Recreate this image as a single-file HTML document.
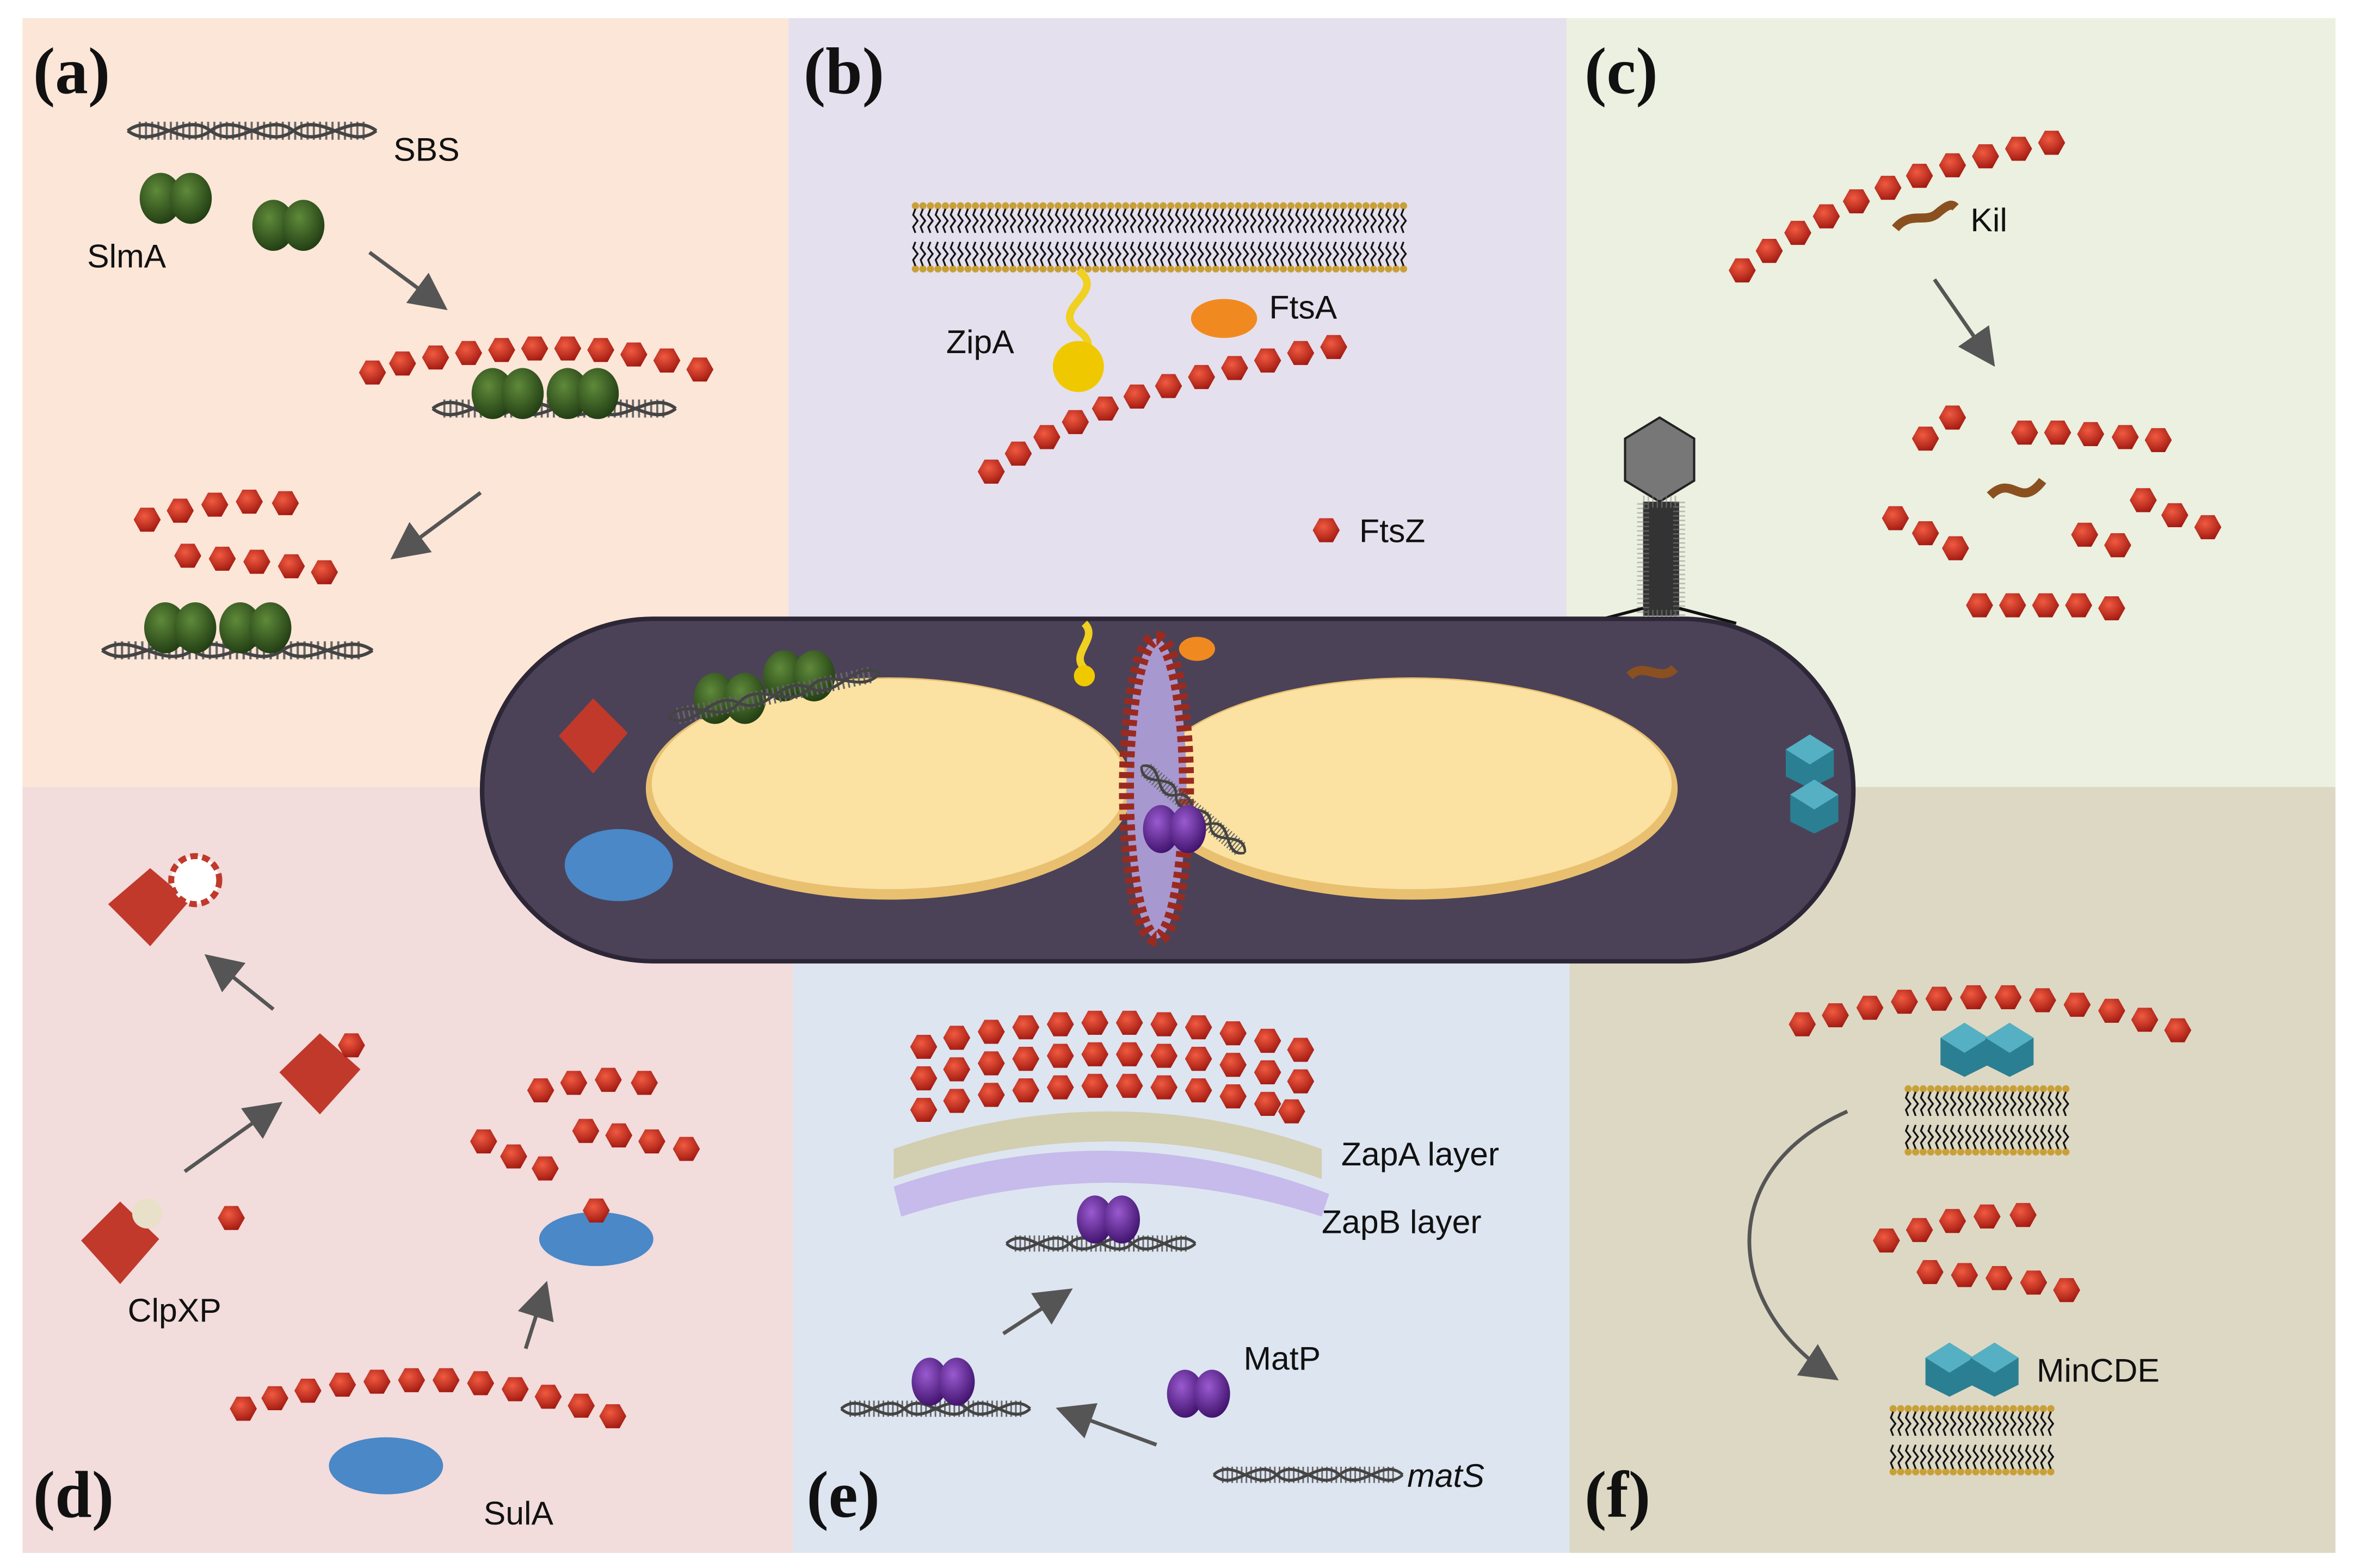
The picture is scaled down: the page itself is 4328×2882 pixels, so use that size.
<!DOCTYPE html>
<html><head><meta charset="utf-8"><style>
html,body{margin:0;padding:0;background:#fff}
svg{display:block}
.l{font-family:"Liberation Sans",sans-serif;font-size:22px;fill:#111}
.p{font-family:"Liberation Serif",serif;font-size:44px;font-weight:bold;fill:#111}
</style></head><body>
<svg width="4328" height="2882" viewBox="0 0 1568 1044" xmlns="http://www.w3.org/2000/svg">
<defs>
<radialGradient id="rg" cx="40%" cy="35%" r="70%"><stop offset="0" stop-color="#f05a40"/><stop offset="1" stop-color="#a01810"/></radialGradient>
<polygon id="b" points="-9,0 -4.5,-8 4.5,-8 9,0 4.5,8 -4.5,8" fill="url(#rg)"/>
<radialGradient id="gg" cx="40%" cy="35%" r="70%"><stop offset="0" stop-color="#5f8a3a"/><stop offset="1" stop-color="#1f3a12"/></radialGradient>
<g id="sl"><ellipse cx="-10" cy="0" rx="14" ry="17" fill="url(#gg)"/><ellipse cx="10" cy="0" rx="14" ry="17" fill="url(#gg)"/></g>
<radialGradient id="pg" cx="40%" cy="35%" r="70%"><stop offset="0" stop-color="#9a5ad0"/><stop offset="1" stop-color="#3c1068"/></radialGradient>
<g id="mp"><ellipse cx="-9" cy="0" rx="12" ry="16" fill="url(#pg)"/><ellipse cx="9" cy="0" rx="12" ry="16" fill="url(#pg)"/></g>
<g id="dna" fill="none"><line x1="8" y1="0" x2="172" y2="0" stroke="#666" stroke-width="12" stroke-dasharray="1.5,3"/><g stroke="#444" stroke-width="2.2"><path d="M0,0 C20,-14 40,14 60,0 C80,-14 100,14 120,0 C140,-14 160,14 180,0"/><path d="M0,0 C20,14 40,-14 60,0 C80,14 100,-14 120,0 C140,14 160,-14 180,0"/></g></g>
<pattern id="lp" x="0" y="0" width="5" height="48" patternUnits="userSpaceOnUse">
<circle cx="2.5" cy="3" r="2.4" fill="#c9a038"/><circle cx="2.5" cy="45" r="2.4" fill="#c9a038"/>
<path d="M2.5,5 l-1.5,4 l3,4 l-3,4 l1.5,4 M2.5,27 l-1.5,4 l3,4 l-3,4 l1.5,4" stroke="#111" stroke-width="1.2" fill="none"/>
</pattern>
<g id="cb"><polygon points="0,-16 16,-6 16,12 0,20 -16,12 -16,-6" fill="#2b7f92"/><polygon points="0,-16 16,-6 0,4 -16,-6" fill="#55b0c4"/></g>
<marker id="ar" markerWidth="10" markerHeight="10" refX="7" refY="5" orient="auto"><path d="M0,0 L10,5 L0,10z" fill="#555"/></marker>
</defs>
<rect width="1568" height="1044" fill="#fff"/>
<rect x="15" y="12" width="510" height="512" fill="#fbe6d8"/>
<rect x="525" y="12" width="518" height="512" fill="#e5e0ed"/>
<rect x="1043" y="12" width="512" height="512" fill="#ebf0e0"/>
<rect x="15" y="524" width="513" height="510" fill="#f2dcdc"/>
<rect x="528" y="524" width="517" height="510" fill="#dde5f1"/>
<rect x="1045" y="524" width="510" height="510" fill="#ddd8c4"/>
<text class="p" x="22" y="62">(a)</text><text class="p" x="535" y="62">(b)</text><text class="p" x="1055" y="62">(c)</text>
<text class="p" x="22" y="1010">(d)</text><text class="p" x="537" y="1010">(e)</text><text class="p" x="1055" y="1010">(f)</text>
<!-- (a) -->
<use href="#dna" transform="translate(85 87) scale(0.92 1)"/>
<text class="l" x="262" y="107">SBS</text>
<use href="#sl" x="117" y="132"/><use href="#sl" x="192" y="150"/>
<text class="l" x="58" y="178">SlmA</text>
<line x1="246" y1="168" x2="292" y2="202" stroke="#555" stroke-width="2.5" marker-end="url(#ar)"/>
<g><use href="#b" x="248" y="248"/><use href="#b" x="268" y="242"/><use href="#b" x="290" y="238"/><use href="#b" x="312" y="235"/><use href="#b" x="334" y="233"/><use href="#b" x="356" y="232"/><use href="#b" x="378" y="232"/><use href="#b" x="400" y="233"/><use href="#b" x="422" y="236"/><use href="#b" x="444" y="240"/><use href="#b" x="466" y="246"/></g>
<use href="#dna" transform="translate(288 272) scale(0.9 1)"/>
<use href="#sl" x="338" y="262"/><use href="#sl" x="388" y="262"/>
<line x1="320" y1="328" x2="266" y2="368" stroke="#555" stroke-width="2.5" marker-end="url(#ar)"/>
<g><use href="#b" x="98" y="346"/><use href="#b" x="120" y="340"/><use href="#b" x="143" y="336"/><use href="#b" x="166" y="334"/><use href="#b" x="190" y="335"/>
<use href="#b" x="125" y="370"/><use href="#b" x="148" y="372"/><use href="#b" x="171" y="374"/><use href="#b" x="194" y="377"/><use href="#b" x="216" y="381"/></g>
<use href="#dna" x="68" y="433"/>
<use href="#sl" x="120" y="418"/><use href="#sl" x="170" y="418"/>
<!-- (b) -->
<g transform="translate(607 134)"><rect width="330" height="48" fill="url(#lp)"/></g>
<path d="M718,180 c20,15 -20,25 0,40 c20,15 -15,20 0,30" stroke="#f0d020" stroke-width="5" fill="none"/>
<circle cx="718" cy="244" r="17" fill="#f0c800"/>
<ellipse cx="815" cy="212" rx="22" ry="13" fill="#f08a20"/>
<text class="l" x="630" y="235">ZipA</text><text class="l" x="845" y="212">FtsA</text>
<g><use href="#b" x="660" y="314"/><use href="#b" x="678" y="302"/><use href="#b" x="697" y="291"/><use href="#b" x="716" y="281"/><use href="#b" x="736" y="272"/><use href="#b" x="757" y="264"/><use href="#b" x="778" y="257"/><use href="#b" x="800" y="251"/><use href="#b" x="822" y="245"/><use href="#b" x="844" y="240"/><use href="#b" x="866" y="235"/><use href="#b" x="888" y="231"/></g>
<use href="#b" x="883" y="353"/><text class="l" x="905" y="361">FtsZ</text>
<!-- (c) -->
<g><use href="#b" x="1160" y="180"/><use href="#b" x="1178" y="167"/><use href="#b" x="1197" y="155"/><use href="#b" x="1216" y="144"/><use href="#b" x="1236" y="134"/><use href="#b" x="1257" y="125"/><use href="#b" x="1278" y="117"/><use href="#b" x="1300" y="110"/><use href="#b" x="1322" y="104"/><use href="#b" x="1344" y="99"/><use href="#b" x="1366" y="95"/></g>
<path d="M1262,152 c10,-12 20,-3 28,-10 c8,-7 10,-6 12,-4" stroke="#8b5020" stroke-width="6" fill="none"/>
<text class="l" x="1312" y="154">Kil</text>
<line x1="1288" y1="186" x2="1324" y2="238" stroke="#555" stroke-width="2.5" marker-end="url(#ar)"/>
<use href="#b" x="1282" y="292"/><use href="#b" x="1300" y="278"/>
<use href="#b" x="1348" y="288"/><use href="#b" x="1370" y="288"/><use href="#b" x="1392" y="289"/><use href="#b" x="1415" y="291"/><use href="#b" x="1437" y="293"/>
<path d="M1325,330 c15,-15 20,10 35,-10" stroke="#8b5020" stroke-width="6" fill="none"/>
<use href="#b" x="1262" y="345"/><use href="#b" x="1282" y="355"/><use href="#b" x="1302" y="365"/>
<use href="#b" x="1427" y="333"/><use href="#b" x="1448" y="343"/><use href="#b" x="1470" y="351"/>
<use href="#b" x="1388" y="356"/><use href="#b" x="1410" y="363"/>
<use href="#b" x="1318" y="403"/><use href="#b" x="1340" y="403"/><use href="#b" x="1362" y="403"/><use href="#b" x="1384" y="403"/><use href="#b" x="1406" y="405"/>
<!-- phage -->
<polygon points="1105,278 1128,292 1128,320 1105,334 1082,320 1082,292" fill="#777" stroke="#222" stroke-width="1.5"/>
<rect x="1094" y="334" width="24" height="76" fill="#333"/>
<rect x="1094" y="334" width="24" height="76" fill="none" stroke="#888" stroke-width="8" stroke-dasharray="1,2" opacity="0.5"/>
<path d="M1094,405 l-38,10 M1118,405 l38,10" stroke="#111" stroke-width="2"/>
<!-- cell -->
<path d="M435,412 L1120,412 A114,114 0 0 1 1120,640 L435,640 A114,114 0 0 1 435,412Z" fill="#4b4258" stroke="#2c2636" stroke-width="3"/>
<ellipse cx="592" cy="525" rx="162" ry="74" fill="#e8c070"/><ellipse cx="592" cy="522" rx="158" ry="70" fill="#fbe2a2"/>
<ellipse cx="940" cy="525" rx="177" ry="74" fill="#e8c070"/><ellipse cx="940" cy="522" rx="173" ry="70" fill="#fbe2a2"/>
<ellipse cx="770" cy="525" rx="20" ry="100" fill="#a898d0" stroke="#9a2a20" stroke-width="10" stroke-dasharray="4,3"/>
<use href="#sl" x="486" y="465"/><use href="#sl" x="532" y="450"/>
<use href="#dna" transform="translate(445 478) rotate(-12) scale(0.8 0.9)"/>
<use href="#dna" transform="translate(760 510) rotate(40) scale(0.5 0.9)"/>
<use href="#mp" x="782" y="552"/>
<polygon points="395,465 418,488 395,515 372,490" fill="#c0392b"/>
<ellipse cx="412" cy="576" rx="36" ry="24" fill="#4a88c8"/>
<use href="#cb" x="1205" y="505"/><use href="#cb" x="1208" y="535"/>
<path d="M1085,450 c10,-10 20,5 30,-5" stroke="#8b5020" stroke-width="6" fill="none"/>
<path d="M722,415 c10,10 -10,20 0,30" stroke="#f0d020" stroke-width="5" fill="none"/><circle cx="722" cy="450" r="7" fill="#f0c800"/>
<ellipse cx="797" cy="432" rx="12" ry="8" fill="#f08a20"/>
<!-- (d) -->
<polygon points="100,578 126,600 100,630 72,602" fill="#c0392b"/>
<circle cx="130" cy="586" r="16" fill="#fff" stroke="#c0392b" stroke-width="4" stroke-dasharray="5,3"/>
<line x1="182" y1="672" x2="142" y2="640" stroke="#555" stroke-width="2.5" marker-end="url(#ar)"/>
<polygon points="213,688 240,712 213,742 186,714" fill="#c0392b"/><use href="#b" x="234" y="696"/>
<line x1="123" y1="780" x2="182" y2="738" stroke="#555" stroke-width="2.5" marker-end="url(#ar)"/>
<polygon points="80,800 106,825 80,855 54,826" fill="#c0392b"/><circle cx="98" cy="808" r="10" fill="#e8e0c8"/>
<use href="#b" x="154" y="811"/>
<text class="l" x="85" y="880">ClpXP</text>
<use href="#b" x="360" y="726"/><use href="#b" x="382" y="721"/><use href="#b" x="405" y="719"/><use href="#b" x="429" y="721"/>
<use href="#b" x="322" y="760"/><use href="#b" x="342" y="770"/><use href="#b" x="363" y="778"/>
<use href="#b" x="390" y="753"/><use href="#b" x="412" y="756"/><use href="#b" x="434" y="760"/><use href="#b" x="457" y="765"/>
<ellipse cx="397" cy="825" rx="38" ry="18" fill="#4a88c8"/><use href="#b" x="397" y="806"/>
<line x1="350" y1="898" x2="362" y2="860" stroke="#555" stroke-width="2.5" marker-end="url(#ar)"/>
<g><use href="#b" x="162" y="938"/><use href="#b" x="183" y="931"/><use href="#b" x="205" y="926"/><use href="#b" x="228" y="922"/><use href="#b" x="251" y="920"/><use href="#b" x="274" y="919"/><use href="#b" x="297" y="919"/><use href="#b" x="320" y="921"/><use href="#b" x="343" y="925"/><use href="#b" x="365" y="930"/><use href="#b" x="387" y="936"/><use href="#b" x="408" y="943"/></g>
<ellipse cx="257" cy="976" rx="38" ry="19" fill="#4a88c8"/>
<text class="l" x="322" y="1015">SulA</text>
<!-- (e) -->
<g>
<use href="#b" x="615" y="697"/><use href="#b" x="637" y="691"/><use href="#b" x="660" y="687"/><use href="#b" x="683" y="684"/><use href="#b" x="706" y="682"/><use href="#b" x="729" y="681"/><use href="#b" x="752" y="681"/><use href="#b" x="775" y="682"/><use href="#b" x="798" y="684"/><use href="#b" x="821" y="688"/><use href="#b" x="844" y="693"/><use href="#b" x="866" y="699"/>
<use href="#b" x="615" y="718"/><use href="#b" x="637" y="712"/><use href="#b" x="660" y="708"/><use href="#b" x="683" y="705"/><use href="#b" x="706" y="703"/><use href="#b" x="729" y="702"/><use href="#b" x="752" y="702"/><use href="#b" x="775" y="703"/><use href="#b" x="798" y="705"/><use href="#b" x="821" y="709"/><use href="#b" x="844" y="714"/><use href="#b" x="866" y="720"/>
<use href="#b" x="615" y="739"/><use href="#b" x="637" y="733"/><use href="#b" x="660" y="729"/><use href="#b" x="683" y="726"/><use href="#b" x="706" y="724"/><use href="#b" x="729" y="723"/><use href="#b" x="752" y="723"/><use href="#b" x="775" y="724"/><use href="#b" x="798" y="726"/><use href="#b" x="821" y="730"/><use href="#b" x="844" y="735"/><use href="#b" x="860" y="740"/></g>
<path d="M595,765 Q740,715 880,765 L880,785 Q740,735 595,785Z" fill="#cfc8a0" opacity="0.8"/>
<path d="M595,790 Q740,740 885,795 L880,810 Q740,765 600,810Z" fill="#c0b0e8" opacity="0.8"/>
<text class="l" x="893" y="776">ZapA layer</text><text class="l" x="880" y="821">ZapB layer</text>
<use href="#dna" transform="translate(670 828) scale(0.7 0.9)"/><use href="#mp" x="738" y="812"/>
<line x1="668" y1="888" x2="708" y2="862" stroke="#555" stroke-width="2.5" marker-end="url(#ar)"/>
<use href="#dna" transform="translate(560 938) scale(0.7 0.9)"/><use href="#mp" x="628" y="920"/>
<use href="#mp" x="798" y="928"/><text class="l" x="828" y="912">MatP</text>
<line x1="770" y1="962" x2="710" y2="940" stroke="#555" stroke-width="2.5" marker-end="url(#ar)"/>
<use href="#dna" transform="translate(808 982) scale(0.7 0.9)"/>
<text class="l" x="937" y="990" font-style="italic">matS</text>
<!-- (f) -->
<g><use href="#b" x="1200" y="682"/><use href="#b" x="1222" y="676"/><use href="#b" x="1245" y="671"/><use href="#b" x="1268" y="667"/><use href="#b" x="1291" y="665"/><use href="#b" x="1314" y="664"/><use href="#b" x="1337" y="664"/><use href="#b" x="1360" y="666"/><use href="#b" x="1383" y="669"/><use href="#b" x="1406" y="673"/><use href="#b" x="1428" y="679"/><use href="#b" x="1450" y="686"/></g>
<use href="#cb" x="1308" y="697"/><use href="#cb" x="1338" y="697"/>
<g transform="translate(1268 722)"><rect width="110" height="48" fill="url(#lp)"/></g>
<path d="M1230,740 C1140,780 1150,870 1218,915" stroke="#555" stroke-width="2.5" fill="none" marker-end="url(#ar)"/>
<use href="#b" x="1256" y="826"/><use href="#b" x="1278" y="819"/><use href="#b" x="1300" y="813"/><use href="#b" x="1323" y="810"/><use href="#b" x="1347" y="809"/>
<use href="#b" x="1285" y="847"/><use href="#b" x="1308" y="849"/><use href="#b" x="1331" y="851"/><use href="#b" x="1354" y="854"/><use href="#b" x="1376" y="859"/>
<use href="#cb" x="1298" y="910"/><use href="#cb" x="1328" y="910"/>
<text class="l" x="1356" y="920">MinCDE</text>
<g transform="translate(1258 935)"><rect width="110" height="48" fill="url(#lp)"/></g>
</svg>
</body></html>
